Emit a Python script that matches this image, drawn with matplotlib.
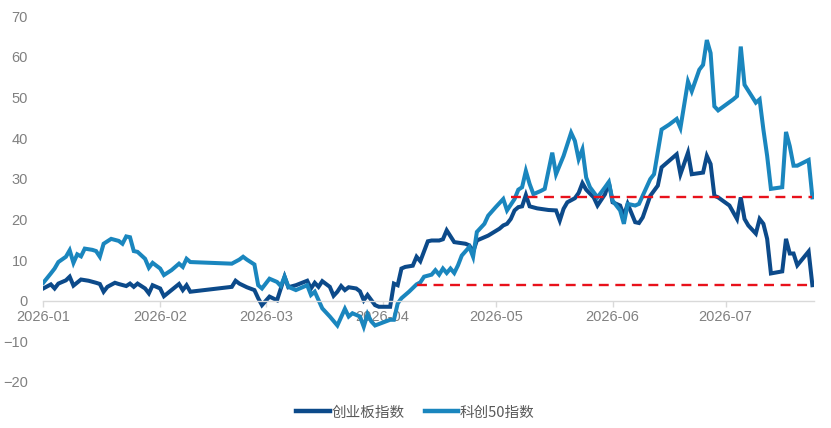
import pandas as pd
import matplotlib.pyplot as plt
import matplotlib.dates as mdates

plt.rcParams['font.family'] = ['Liberation Sans', 'Noto Sans CJK SC', 'DejaVu Sans']

# 创业板指数
cyb_dates = ['2026-01-01', '2026-01-03', '2026-01-04', '2026-01-05', '2026-01-07', '2026-01-08',
             '2026-01-09', '2026-01-11', '2026-01-13', '2026-01-15', '2026-01-16', '2026-01-17',
             '2026-01-18', '2026-01-20', '2026-01-21', '2026-01-23', '2026-01-24', '2026-01-25',
             '2026-01-26', '2026-01-28', '2026-01-29', '2026-01-30', '2026-02-01', '2026-02-02',
             '2026-02-04', '2026-02-06', '2026-02-07', '2026-02-08', '2026-02-09', '2026-02-20',
             '2026-02-21', '2026-02-22', '2026-02-24', '2026-02-26', '2026-02-27', '2026-02-28',
             '2026-03-02', '2026-03-04', '2026-03-06', '2026-03-07', '2026-03-09', '2026-03-12',
             '2026-03-13', '2026-03-14', '2026-03-15', '2026-03-16', '2026-03-18', '2026-03-19',
             '2026-03-20', '2026-03-21', '2026-03-22', '2026-03-23', '2026-03-25', '2026-03-26',
             '2026-03-27', '2026-03-28', '2026-03-30', '2026-03-31', '2026-04-03', '2026-04-04',
             '2026-04-05', '2026-04-06', '2026-04-07', '2026-04-09', '2026-04-10', '2026-04-11',
             '2026-04-13', '2026-04-14', '2026-04-16', '2026-04-17', '2026-04-18', '2026-04-20',
             '2026-04-23', '2026-04-24', '2026-04-25', '2026-04-26', '2026-04-29', '2026-05-02',
             '2026-05-03', '2026-05-04', '2026-05-05', '2026-05-06', '2026-05-07', '2026-05-08',
             '2026-05-09', '2026-05-10', '2026-05-12', '2026-05-15', '2026-05-17', '2026-05-18',
             '2026-05-19', '2026-05-20', '2026-05-22', '2026-05-23', '2026-05-24', '2026-05-25',
             '2026-05-27', '2026-05-28', '2026-05-30', '2026-05-31', '2026-06-01', '2026-06-03',
             '2026-06-04', '2026-06-05', '2026-06-07', '2026-06-08', '2026-06-09', '2026-06-11',
             '2026-06-13', '2026-06-14', '2026-06-18', '2026-06-19', '2026-06-21', '2026-06-22',
             '2026-06-25', '2026-06-26', '2026-06-27', '2026-06-28', '2026-06-29', '2026-07-02',
             '2026-07-04', '2026-07-05', '2026-07-06', '2026-07-07', '2026-07-09', '2026-07-10',
             '2026-07-11', '2026-07-12', '2026-07-13', '2026-07-16', '2026-07-17', '2026-07-18',
             '2026-07-19', '2026-07-20', '2026-07-23', '2026-07-24']
cyb_values = [3.0, 4.0, 3.0, 4.2, 5.0, 5.9,
              3.7, 5.2, 4.9, 4.4, 4.1, 2.2,
              3.4, 4.4, 4.1, 3.6, 4.2, 3.4,
              4.2, 3.0, 1.8, 3.8, 3.0, 1.1,
              2.6, 4.1, 2.6, 3.8, 2.2, 3.4,
              4.9, 4.2, 3.3, 2.6, 0.6, -1.1,
              1.0, 0.1, 5.9, 3.3, 3.8, 4.9,
              3.0, 4.4, 3.4, 4.8, 3.4, 1.2,
              2.2, 3.6, 2.6, 3.3, 3.0, 2.3,
              0.1, 1.4, -1.1, -1.5, -1.5, 4.2,
              3.8, 7.9, 8.3, 8.6, 10.8, 9.7,
              14.6, 14.8, 14.8, 15.1, 17.3, 14.4,
              14.0, 13.6, 12.0, 14.8, 16.0, 17.7,
              18.5, 18.9, 20.1, 22.2, 23.0, 23.2,
              26.0, 23.2, 22.7, 22.3, 22.2, 19.7,
              22.6, 24.2, 25.2, 26.5, 28.9, 27.3,
              25.4, 23.4, 26.2, 29.1, 24.2, 23.4,
              20.9, 23.8, 19.3, 19.1, 20.5, 25.8,
              28.3, 32.8, 36.0, 31.1, 36.4, 31.1,
              31.5, 35.6, 33.6, 25.8, 25.4, 23.4,
              20.1, 25.4, 20.1, 18.5, 16.5, 20.1,
              18.9, 15.2, 6.7, 7.2, 15.2, 11.6,
              11.6, 8.7, 12.1, 3.8]

# 科创50指数
kc50_dates = ['2026-01-01', '2026-01-03', '2026-01-04', '2026-01-05', '2026-01-07', '2026-01-08',
              '2026-01-09', '2026-01-10', '2026-01-11', '2026-01-12', '2026-01-14', '2026-01-15',
              '2026-01-16', '2026-01-17', '2026-01-19', '2026-01-21', '2026-01-22', '2026-01-23',
              '2026-01-24', '2026-01-25', '2026-01-26', '2026-01-28', '2026-01-29', '2026-01-30',
              '2026-02-01', '2026-02-02', '2026-02-04', '2026-02-06', '2026-02-07', '2026-02-08',
              '2026-02-09', '2026-02-20', '2026-02-22', '2026-02-23', '2026-02-24', '2026-02-26',
              '2026-02-27', '2026-02-28', '2026-03-01', '2026-03-02', '2026-03-04', '2026-03-05',
              '2026-03-06', '2026-03-07', '2026-03-09', '2026-03-10', '2026-03-12', '2026-03-13',
              '2026-03-14', '2026-03-16', '2026-03-18', '2026-03-20', '2026-03-22', '2026-03-23',
              '2026-03-24', '2026-03-25', '2026-03-26', '2026-03-27', '2026-03-28', '2026-03-29',
              '2026-03-30', '2026-04-03', '2026-04-04', '2026-04-05', '2026-04-06', '2026-04-07',
              '2026-04-08', '2026-04-10', '2026-04-11', '2026-04-12', '2026-04-14', '2026-04-15',
              '2026-04-16', '2026-04-17', '2026-04-18', '2026-04-19', '2026-04-20', '2026-04-21',
              '2026-04-22', '2026-04-24', '2026-04-25', '2026-04-26', '2026-04-28', '2026-04-29',
              '2026-05-01', '2026-05-03', '2026-05-04', '2026-05-06', '2026-05-07', '2026-05-08',
              '2026-05-09', '2026-05-10', '2026-05-11', '2026-05-13', '2026-05-14', '2026-05-16',
              '2026-05-17', '2026-05-19', '2026-05-21', '2026-05-22', '2026-05-23', '2026-05-24',
              '2026-05-25', '2026-05-26', '2026-05-28', '2026-05-30', '2026-05-31', '2026-06-01',
              '2026-06-03', '2026-06-04', '2026-06-05', '2026-06-07', '2026-06-08', '2026-06-11',
              '2026-06-12', '2026-06-14', '2026-06-16', '2026-06-18', '2026-06-19', '2026-06-21',
              '2026-06-22', '2026-06-24', '2026-06-25', '2026-06-26', '2026-06-27', '2026-06-28',
              '2026-06-29', '2026-07-03', '2026-07-04', '2026-07-05', '2026-07-06', '2026-07-09',
              '2026-07-10', '2026-07-11', '2026-07-12', '2026-07-13', '2026-07-16', '2026-07-17',
              '2026-07-18', '2026-07-19', '2026-07-20', '2026-07-23', '2026-07-24']
kc50_values = [4.4, 6.7, 7.9, 9.5, 10.8, 12.4,
               9.3, 11.4, 10.9, 12.8, 12.5, 12.2,
               10.8, 14.0, 15.2, 14.7, 14.0, 15.8,
               15.6, 12.2, 12.0, 10.3, 8.1, 9.3,
               7.9, 6.3, 7.5, 9.1, 8.3, 10.3,
               9.5, 9.1, 10.1, 10.8, 10.1, 8.9,
               3.8, 3.0, 4.2, 5.4, 4.6, 3.6,
               5.9, 3.4, 2.6, 3.0, 3.8, 1.4,
               2.2, -1.9, -3.9, -6.1, -2.0, -3.9,
               -3.1, -3.5, -3.9, -6.4, -3.3, -5.1,
               -6.1, -4.7, -4.7, -0.7, 0.6, 1.4,
               2.2, 4.0, 4.5, 5.9, 6.4, 7.5,
               6.4, 7.9, 6.8, 7.9, 6.8, 8.7,
               11.1, 13.2, 10.8, 16.9, 18.9, 20.9,
               23.0, 25.0, 22.2, 25.0, 27.3, 27.9,
               31.9, 28.7, 26.2, 27.0, 27.5, 36.4,
               31.1, 35.6, 41.3, 39.3, 34.8, 37.2,
               30.3, 27.9, 25.4, 27.9, 29.2, 24.6,
               22.2, 18.9, 23.8, 23.4, 23.8, 29.9,
               31.1, 42.1, 43.3, 44.7, 42.5, 53.9,
               51.5, 56.8, 58.0, 64.1, 60.9, 47.8,
               46.8, 49.5, 50.3, 62.5, 53.1, 48.7,
               49.5, 42.1, 35.6, 27.5, 27.9, 41.5,
               38.0, 33.2, 33.2, 34.6, 25.4]

# red dashed reference lines: start dates, level = last value of each series
ref_start_kc50 = '2026-05-05'
ref_start_cyb = '2026-04-10'

y_ticks = [-20, -10, 0, 10, 20, 30, 40, 50, 60, 70]

cyb_x = pd.to_datetime(cyb_dates)
kc50_x = pd.to_datetime(kc50_dates)

fig = plt.figure(figsize=(8.31, 4.28), dpi=100)
ax = fig.add_axes([0.0521, 0.1075, 0.9274, 0.855])

ax.plot(cyb_x, cyb_values, color='#0C4A8A', lw=2.9, label='创业板指数', solid_joinstyle='miter')
ax.plot(kc50_x, kc50_values, color='#1A86BE', lw=2.9, label='科创50指数', solid_joinstyle='miter')

end = kc50_x[-1]
ax.plot([pd.Timestamp(ref_start_kc50), end], [kc50_values[-1]] * 2, color='#E8111B', lw=1.7, dashes=(4.2, 2.8))
ax.plot([pd.Timestamp(ref_start_cyb), end], [cyb_values[-1]] * 2, color='#E8111B', lw=1.7, dashes=(4.2, 2.8))

ax.set_ylim(-20, 70)
ax.set_yticks(y_ticks)
ax.set_xlim(kc50_x[0], end + pd.Timedelta(hours=10))
ax.xaxis.set_major_locator(mdates.MonthLocator())
ax.xaxis.set_major_formatter(mdates.DateFormatter('%Y-%m'))

for s in ['top', 'right', 'left']:
    ax.spines[s].set_visible(False)
ax.spines['bottom'].set_position(('data', 0))
ax.spines['bottom'].set_color('#d9d9d9')
ax.spines['bottom'].set_linewidth(1.0)

ax.tick_params(axis='y', length=0, pad=11, labelsize=10.5, labelcolor='#808080')
ax.tick_params(axis='x', length=4, width=1, color='#d9d9d9', pad=3, labelsize=10.5, labelcolor='#808080')

leg = fig.legend(loc='center', bbox_to_anchor=(0.5, 0.036), ncol=2, frameon=False,
                 handlelength=2.3, handletextpad=0.1, columnspacing=1.4,
                 prop={'family': ['Noto Sans CJK SC', 'DejaVu Sans'], 'size': 10.5})
for t in leg.get_texts():
    t.set_color('#595959')
for h in leg.legend_handles:
    h.set_linewidth(3.2)

plt.savefig('out.png', dpi=100)
